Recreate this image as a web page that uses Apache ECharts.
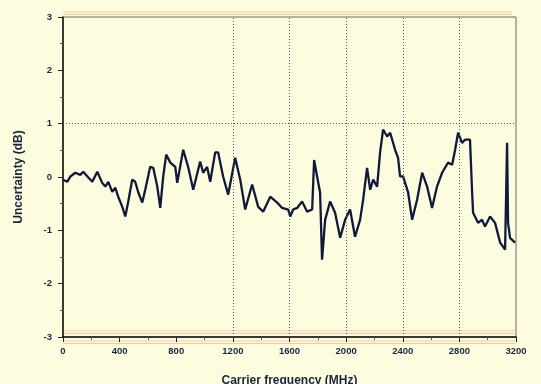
<!DOCTYPE html>
<html><head><meta charset="utf-8">
<script src="https://cdn.jsdelivr.net/npm/echarts@6/dist/echarts.min.js"></script>
<style>html,body{margin:0;padding:0;background:#fefcdf;}#c{width:541px;height:384px;}</style>
</head><body><div id="c"></div>
<script>
var freqs = [0,30,52,87,122,143,179,207,242,277,299,320,348,369,390,419,440,461,489,510,532,560,581,616,638,666,687,708,729,758,793,807,849,884,920,969,990,1018,1040,1075,1096,1131,1167,1216,1252,1287,1336,1379,1414,1464,1513,1548,1591,1605,1626,1654,1689,1725,1760,1774,1795,1816,1830,1852,1887,1922,1958,1993,2028,2063,2099,2120,2148,2170,2191,2219,2240,2261,2290,2311,2346,2367,2381,2402,2438,2466,2501,2537,2572,2607,2642,2678,2720,2749,2770,2791,2819,2840,2875,2890,2897,2932,2960,2981,3017,3052,3088,3123,3137,3144,3158,3193];
var uncertainty = [-0.05,-0.09,0.01,0.08,0.04,0.10,-0.01,-0.09,0.10,-0.11,-0.18,-0.09,-0.28,-0.20,-0.37,-0.56,-0.74,-0.46,-0.05,-0.09,-0.29,-0.48,-0.24,0.19,0.17,-0.18,-0.58,0.01,0.42,0.27,0.19,-0.11,0.51,0.19,-0.24,0.29,0.08,0.19,-0.09,0.46,0.46,0.01,-0.33,0.36,-0.05,-0.61,-0.14,-0.56,-0.65,-0.37,-0.48,-0.58,-0.61,-0.74,-0.61,-0.58,-0.46,-0.65,-0.61,0.32,0.01,-0.29,-1.55,-0.80,-0.46,-0.67,-1.14,-0.80,-0.61,-1.12,-0.80,-0.43,0.17,-0.24,-0.05,-0.18,0.46,0.89,0.76,0.83,0.51,0.36,0.01,0.01,-0.29,-0.80,-0.43,0.08,-0.18,-0.58,-0.18,0.08,0.27,0.23,0.51,0.83,0.64,0.70,0.70,-0.29,-0.67,-0.86,-0.80,-0.93,-0.74,-0.86,-1.23,-1.36,0.64,-0.86,-1.14,-1.23];
var xGridLines = [1200,1600,2000,2400,2800];
var yGridLines = [1];
var xTitle = 'Carrier frequency (MHz)';
var yTitle = 'Uncertainty (dB)';

var chart = echarts.init(document.getElementById('c'));
var lbl = {color:'#1a2340', fontSize:9.5, fontWeight:'bold', fontFamily:'Liberation Sans, Arial, sans-serif'};
var dotted = {color:'#4a5a70', type:[1,2], width:1};
var marks = [];
xGridLines.forEach(function(v){ marks.push({xAxis:v}); });
yGridLines.forEach(function(v){ marks.push({yAxis:v}); });
chart.setOption({
  backgroundColor:'#fefcdf',
  animation:false,
  grid:{left:63,right:25,top:17,bottom:47,outerBoundsMode:'none',containLabel:false,show:true,borderColor:'#666',borderWidth:1,backgroundColor:'transparent'},
  xAxis:{type:'value',min:0,max:3200,interval:400,
    name:xTitle,nameLocation:'middle',nameGap:38,
    nameTextStyle:{color:'#1a2340',fontSize:12,fontWeight:'bold',fontFamily:'Liberation Sans, Arial, sans-serif'},
    axisLine:{show:true,onZero:false,lineStyle:{color:'#111',width:1.5}},
    axisTick:{show:true,length:5,inside:false,lineStyle:{color:'#222'}},
    minorTick:{show:true,splitNumber:2,length:3,lineStyle:{color:'#555'}},
    axisLabel:Object.assign({margin:9,formatter:function(v){return String(v);}},lbl),
    splitLine:{show:false}},
  yAxis:{type:'value',min:-3,max:3,interval:1,
    name:yTitle,nameLocation:'middle',nameGap:38,nameRotate:90,
    nameTextStyle:{color:'#1a2340',fontSize:12,fontWeight:'bold',fontFamily:'Liberation Sans, Arial, sans-serif'},
    axisLine:{show:true,onZero:false,lineStyle:{color:'#111',width:1.5}},
    axisTick:{show:true,length:5,inside:false,lineStyle:{color:'#222'}},
    minorTick:{show:true,splitNumber:2,length:3,lineStyle:{color:'#555'}},
    axisLabel:Object.assign({margin:11},lbl),
    splitLine:{show:false}},
  graphic:[
    {type:'line',shape:{x1:63,y1:12,x2:512,y2:12},style:{stroke:'#f8c9a0',lineWidth:1.2},silent:true},
    {type:'line',shape:{x1:63,y1:14.5,x2:512,y2:14.5},style:{stroke:'#f8c9a0',lineWidth:1.2},silent:true},
    {type:'line',shape:{x1:63,y1:331,x2:516,y2:331},style:{stroke:'#f8c9a0',lineWidth:1.2},silent:true},
    {type:'line',shape:{x1:63,y1:333.5,x2:516,y2:333.5},style:{stroke:'#f8c9a0',lineWidth:1.2},silent:true},
    {type:'line',shape:{x1:63,y1:341,x2:516,y2:341},style:{stroke:'#f8c9a0',lineWidth:1.2},silent:true},
    {type:'line',shape:{x1:63,y1:343.5,x2:516,y2:343.5},style:{stroke:'#f8c9a0',lineWidth:1.2},silent:true}
  ],
  series:[{type:'line',showSymbol:false,symbol:'none',
    data:freqs.map(function(f,i){return [f,uncertainty[i]];}),
    lineStyle:{color:'#0d1a3a',width:2.3},
    markLine:{silent:true,symbol:['none','none'],label:{show:false},lineStyle:dotted,data:marks},
    z:3}]
});
</script></body></html>
